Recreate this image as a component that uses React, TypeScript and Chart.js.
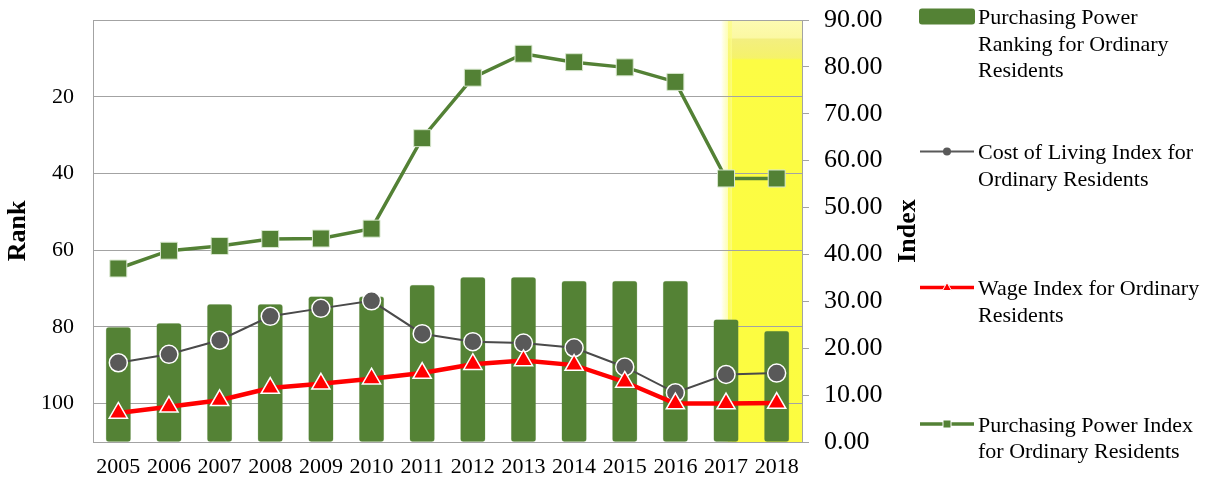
import React, { useEffect, useRef } from 'react';
import { Chart, registerables } from 'chart.js';

Chart.register(...registerables);

// ---------- data ----------
const years = ['2005', '2006', '2007', '2008', '2009', '2010', '2011', '2012', '2013', '2014', '2015', '2016', '2017', '2018'];
const rankValues = [80, 79, 74, 74, 72, 72, 69, 67, 67, 68, 68, 68, 78, 81];
const costOfLivingIndex = [16.9, 18.7, 21.7, 26.8, 28.5, 30.1, 23.1, 21.4, 21.1, 20.1, 16.0, 10.5, 14.4, 14.7];
const wageIndex = [6.2, 7.5, 8.9, 11.5, 12.4, 13.5, 14.7, 16.6, 17.4, 16.4, 12.8, 8.2, 8.2, 8.3];
const purchasingPowerIndex = [37.0, 40.8, 41.8, 43.3, 43.4, 45.5, 64.8, 77.7, 82.8, 81.0, 79.9, 76.8, 56.2, 56.2];
const rankTickLabels = [20, 40, 60, 80, 100];
const rankMin = 0;
const rankMax = 110;
const indexMin = 0;
const indexMax = 90;
const indexStep = 10;
const highlightFromYear = '2017';
const leftAxisTitle = 'Rank';
const rightAxisTitle = 'Index';

const seriesNames = [
  'Purchasing Power Ranking for Ordinary Residents',
  'Cost of Living Index for Ordinary Residents',
  'Wage Index for Ordinary Residents',
  'Purchasing Power Index for Ordinary Residents',
];
const legendLines = [
  ['Purchasing Power', 'Ranking for Ordinary', 'Residents'],
  ['Cost of Living Index for', 'Ordinary Residents'],
  ['Wage Index for Ordinary', 'Residents'],
  ['Purchasing Power Index', 'for Ordinary Residents'],
];

// ---------- styles ----------
const SERIF = '"Liberation Serif", "Times New Roman", serif';
const GREEN = '#548235';
const GRID = '#a3a3a3';

const highlightPlugin = {
  id: 'highlight',
  beforeDraw(chart: any) {
    const { ctx, chartArea, scales } = chart;
    const xs = scales.x;
    const idx = years.indexOf(highlightFromYear);
    const left = xs.getPixelForValue(idx) + 2;
    const right = chartArea.right;
    const top = chartArea.top;
    const bottom = chartArea.bottom;
    const h = bottom - top;
    ctx.save();
    const g = ctx.createLinearGradient(0, top, 0, bottom);
    g.addColorStop(0, '#fdfbb2');
    g.addColorStop(18 / h, '#fbf8a2');
    g.addColorStop(19 / h, '#f3ef80');
    g.addColorStop(38 / h, '#f5f26a');
    g.addColorStop(40 / h, '#fcfc44');
    g.addColorStop(1, '#fcfc40');
    ctx.fillStyle = g;
    ctx.fillRect(left, top, right - left, h);
    // soft left glow
    const gl = ctx.createLinearGradient(left - 7, 0, left + 4, 0);
    gl.addColorStop(0, 'rgba(252,252,64,0)');
    gl.addColorStop(1, 'rgba(252,252,140,0.8)');
    ctx.fillStyle = gl;
    ctx.fillRect(left - 7, top, 11, h);
    ctx.restore();
  },
};

const rightTitlePlugin = {
  id: 'rightTitle',
  afterDraw(chart: any) {
    const { ctx, chartArea } = chart;
    ctx.save();
    ctx.font = `bold 26px ${SERIF}`;
    ctx.fillStyle = '#000';
    ctx.textAlign = 'center';
    ctx.textBaseline = 'middle';
    ctx.translate(908, (chartArea.top + chartArea.bottom) / 2);
    ctx.rotate(-Math.PI / 2);
    ctx.fillText(rightAxisTitle, 0, 0);
    ctx.restore();
  },
};

const legendPlugin = {
  id: 'customLegend',
  afterDraw(chart: any) {
    const { ctx } = chart;
    const markerL = 920;
    const markerR = 974;
    const markerC = (markerL + markerR) / 2;
    const textX = 978;
    const firstBaselines = [24, 159, 295, 431.5];
    const lineGap = 26.5;
    ctx.save();
    ctx.font = `22px ${SERIF}`;
    ctx.fillStyle = '#000';
    ctx.textBaseline = 'alphabetic';
    ctx.textAlign = 'left';
    legendLines.forEach((lines, i) => {
      const b = firstBaselines[i];
      lines.forEach((t, j) => ctx.fillText(t, textX, b + j * lineGap));
      const my = b - 7.5;
      if (i === 0) {
        ctx.fillStyle = GREEN;
        ctx.beginPath();
        (ctx as any).roundRect(markerL - 1, my - 8, markerR - markerL + 2, 16, 3);
        ctx.fill();
        ctx.fillStyle = '#000';
      } else if (i === 1) {
        ctx.strokeStyle = '#595959';
        ctx.lineWidth = 2;
        ctx.beginPath();
        ctx.moveTo(markerL, my);
        ctx.lineTo(markerR, my);
        ctx.stroke();
        ctx.fillStyle = '#595959';
        ctx.beginPath();
        ctx.arc(markerC, my, 4, 0, Math.PI * 2);
        ctx.fill();
        ctx.fillStyle = '#000';
      } else if (i === 2) {
        ctx.strokeStyle = '#ff0000';
        ctx.lineWidth = 3.5;
        ctx.beginPath();
        ctx.moveTo(markerL, my);
        ctx.lineTo(markerR, my);
        ctx.stroke();
        ctx.fillStyle = '#ff0000';
        ctx.strokeStyle = '#ffffff';
        ctx.lineWidth = 1;
        ctx.beginPath();
        ctx.moveTo(markerC, my - 5);
        ctx.lineTo(markerC + 4.5, my + 3);
        ctx.lineTo(markerC - 4.5, my + 3);
        ctx.closePath();
        ctx.fill();
        ctx.stroke();
        ctx.fillStyle = '#000';
      } else {
        ctx.strokeStyle = '#538135';
        ctx.lineWidth = 3.5;
        ctx.beginPath();
        ctx.moveTo(markerL, my);
        ctx.lineTo(markerR, my);
        ctx.stroke();
        ctx.fillStyle = '#538135';
        ctx.strokeStyle = '#ffffff';
        ctx.lineWidth = 1;
        ctx.fillRect(markerC - 4, my - 4, 8, 8);
        ctx.strokeRect(markerC - 4, my - 4, 8, 8);
        ctx.fillStyle = '#000';
      }
    });
    ctx.restore();
  },
};

const noPad = (s: any) => {
  s.paddingTop = 0;
  s.paddingBottom = 0;
  s.paddingLeft = 0;
  s.paddingRight = 0;
};

export default function App() {
  const canvasRef = useRef<HTMLCanvasElement | null>(null);

  useEffect(() => {
    if (!canvasRef.current) return;
    const chart = new Chart(canvasRef.current, {
      type: 'bar',
      data: {
        labels: years,
        datasets: [
          {
            type: 'bar',
            label: seriesNames[0],
            data: rankValues.map((r) => [r, rankMax]) as any,
            yAxisID: 'yRank',
            backgroundColor: GREEN,
            borderColor: 'rgba(120,160,100,0.6)',
            borderWidth: 0.5,
            borderRadius: 3,
            borderSkipped: false,
            barPercentage: 0.5,
            categoryPercentage: 1,
            order: 4,
          } as any,
          {
            type: 'line',
            label: seriesNames[1],
            data: costOfLivingIndex,
            yAxisID: 'yIndex',
            borderColor: '#4a4a4a',
            borderWidth: 2,
            pointStyle: 'circle',
            pointRadius: 9,
            pointBackgroundColor: '#595959',
            pointBorderColor: '#ffffff',
            pointBorderWidth: 1.5,
            tension: 0,
            order: 3,
          } as any,
          {
            type: 'line',
            label: seriesNames[2],
            data: wageIndex,
            yAxisID: 'yIndex',
            borderColor: '#ff0000',
            borderWidth: 4.5,
            pointStyle: 'triangle',
            pointRadius: 10.5,
            pointBackgroundColor: '#ff0000',
            pointBorderColor: '#ffffff',
            pointBorderWidth: 1.5,
            tension: 0,
            order: 2,
          } as any,
          {
            type: 'line',
            label: seriesNames[3],
            data: purchasingPowerIndex,
            yAxisID: 'yIndex',
            borderColor: '#538135',
            borderWidth: 3.5,
            pointStyle: 'rect',
            pointRadius: 12,
            pointBackgroundColor: '#538135',
            pointBorderColor: '#d9e8cf',
            pointBorderWidth: 1,
            tension: 0,
            order: 1,
          } as any,
        ],
      },
      options: {
        responsive: true,
        maintainAspectRatio: false,
        animation: false,
        layout: { padding: { left: 0, top: 20, right: 299, bottom: 0 } },
        plugins: {
          legend: { display: false },
          tooltip: { enabled: false },
        },
        scales: {
          x: {
            grid: { display: false, drawTicks: false },
            border: { display: true, color: GRID },
            ticks: {
              color: '#000',
              font: { family: SERIF, size: 22 },
              padding: 12,
              maxRotation: 0,
              autoSkip: false,
            },
            afterFit: (s: any) => {
              s.height = 37;
              noPad(s);
            },
          },
          yRank: {
            position: 'left',
            reverse: true,
            min: rankMin,
            max: rankMax,
            grid: { color: GRID, lineWidth: 1, drawTicks: false },
            border: { display: true, color: GRID },
            ticks: {
              stepSize: 20,
              color: '#000',
              font: { family: SERIF, size: 22 },
              padding: 19,
              callback: (v: any) => (rankTickLabels.includes(Number(v)) ? String(v) : ''),
            },
            title: {
              display: true,
              text: leftAxisTitle,
              color: '#000',
              font: { family: SERIF, size: 26, weight: 'bold' },
              padding: { top: 3, bottom: 0 },
            },
            afterFit: (s: any) => {
              s.width = 93;
              noPad(s);
            },
          },
          yIndex: {
            position: 'right',
            min: indexMin,
            max: indexMax,
            grid: { drawOnChartArea: false, drawTicks: true, tickLength: 7, color: GRID },
            border: { display: true, color: GRID },
            ticks: {
              stepSize: indexStep,
              color: '#000',
              font: { family: SERIF, size: 26 },
              padding: 15,
              callback: (v: any) => Number(v).toFixed(2),
            },
            afterFit: (s: any) => {
              s.width = 123;
              noPad(s);
            },
          },
        },
      } as any,
      plugins: [highlightPlugin, legendPlugin, rightTitlePlugin],
    });
    return () => chart.destroy();
  }, []);

  return (
    <div style={{ position: 'fixed', left: 0, top: 0, width: 1224, height: 479, background: '#fff' }}>
      <canvas ref={canvasRef} />
    </div>
  );
}
